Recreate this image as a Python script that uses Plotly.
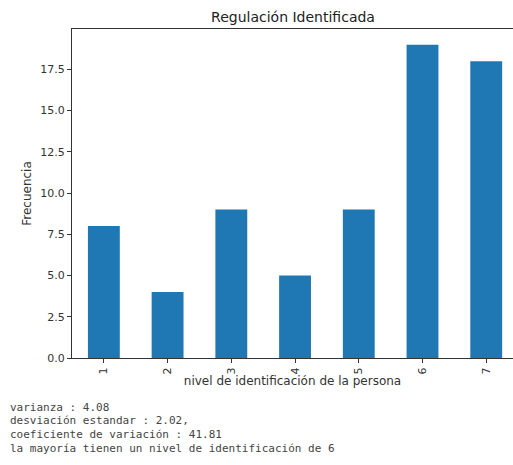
import plotly.graph_objects as go

categories = ["1", "2", "3", "4", "5", "6", "7"]
values = [8, 4, 9, 5, 9, 19, 18]
y_ticks = [0, 2.5, 5, 7.5, 10, 12.5, 15, 17.5]
stats_lines = [
    "varianza : 4.08",
    "desviación estandar : 2.02,",
    "coeficiente de variación : 41.81",
    "la mayoría tienen un nivel de identificación de 6",
]

W, H = 513, 465
L, R, T = 72, 0, 29
B = H - 358
pw, ph = W - L - R, H - T - B

fig = go.Figure()
fig.add_trace(go.Bar(x=list(range(len(categories))), y=values, width=0.5,
                     marker=dict(color="#1f77b4", line=dict(width=0))))

fig.update_layout(
    width=W, height=H,
    margin=dict(l=L, r=R, t=T, b=B, pad=0),
    paper_bgcolor="white", plot_bgcolor="white",
    font=dict(family="DejaVu Sans", size=11, color="#333"),
    showlegend=False,
    title=dict(text="Regulación Identificada", x=293 / W, xanchor="center",
               y=1 - 17 / H, yanchor="middle", font=dict(size=14, color="#222")),
)
fig.update_xaxes(
    range=[-0.5, 6.42], tickmode="array", tickvals=list(range(len(categories))),
    ticktext=categories, tickangle=-90, ticks="outside", ticklen=4, tickcolor="#333",
    showline=True, linecolor="#333", linewidth=1, mirror=True, showgrid=False,
    zeroline=False,
    title=dict(text="nivel de identificación de la persona", standoff=2,
               font=dict(size=12)),
)
fig.update_yaxes(
    range=[0, 19.95], tickmode="array", tickvals=y_ticks,
    ticktext=[f"{v:.1f}" for v in y_ticks], ticks="outside", ticklen=4,
    tickcolor="#333", showline=True, linecolor="#333", linewidth=1,
    showgrid=False, zeroline=False,
    title=dict(text="Frecuencia", standoff=6, font=dict(size=12)),
)

for i, line in enumerate(stats_lines):
    ypix = 407 + i * 13.7
    fig.add_annotation(
        text=line, xref="paper", yref="paper",
        x=(8 - L) / pw, y=(H - B - ypix) / ph,
        xanchor="left", yanchor="middle", showarrow=False,
        font=dict(family="DejaVu Sans Mono", size=11, color="#444"),
    )

fig.write_html("out.html", config={"displayModeBar": False},
               post_script="document.body.style.margin='0';document.body.style.overflow='hidden';")
